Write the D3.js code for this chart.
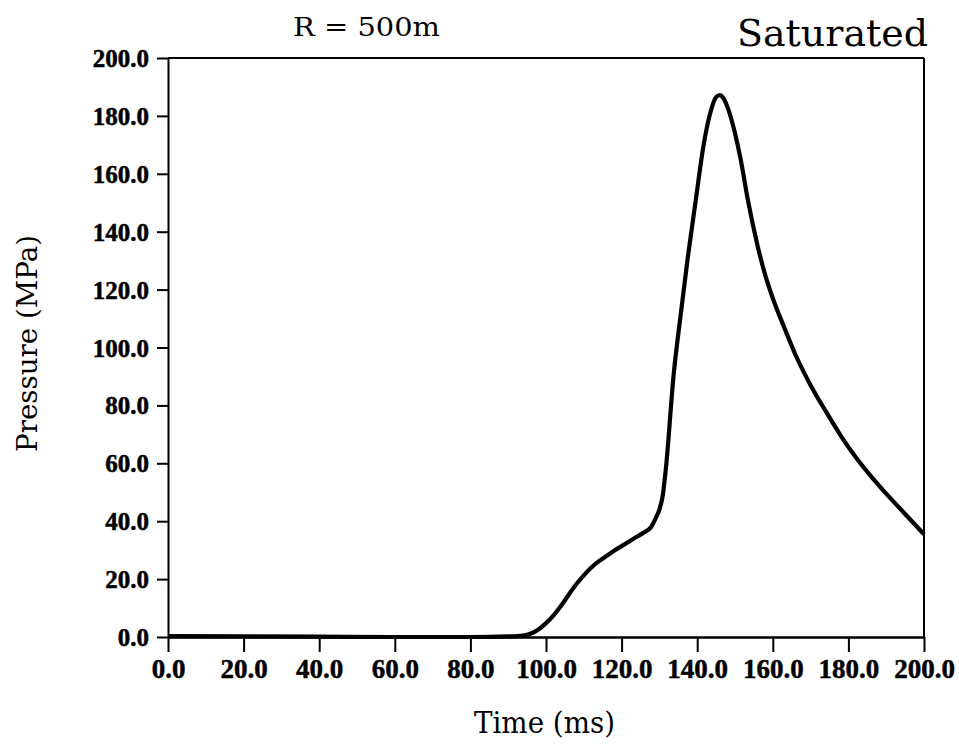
<!DOCTYPE html>
<html>
<head>
<meta charset="utf-8">
<script src="https://cdn.jsdelivr.net/npm/d3@7"></script>
<style>
  html, body { margin: 0; padding: 0; background: #fff; }
  svg { display: block; }
</style>
</head>
<body>
<svg id="chart" width="959" height="747"></svg>
<script>
// ---- data ----
const timeMs = [0, 20, 40, 60, 80, 90, 94, 96, 98, 100, 102, 104, 106, 108, 110, 112, 114, 116, 118, 120,
  122, 124, 126, 127.7, 129, 130, 130.9, 131.7, 133.8, 135.6, 137.5, 139.6, 141.7, 143.6, 145, 146, 147,
  148.3, 150, 151.5, 153.4, 156, 158, 160, 163, 166, 170, 174, 178, 182, 186, 190, 195, 200];
const pressureMPa = [0.3, 0.2, 0.1, 0.0, 0.0, 0.2, 0.5, 1.2, 2.6, 4.8, 7.5, 10.8, 14.6, 18.2, 21.3, 24.0, 26.2, 28.0, 29.8, 31.4,
  33.0, 34.6, 36.2, 37.8, 41, 44, 49, 58, 91, 111, 131, 150.7, 170, 181.7, 186.5, 187.2, 186,
  182, 174, 165, 151, 135, 125, 117, 107, 97.5, 87, 78, 69.5, 62, 55.5, 49.5, 42.5, 35.5];
const xTicks = [0, 20, 40, 60, 80, 100, 120, 140, 160, 180, 200];
const yTicks = [0, 20, 40, 60, 80, 100, 120, 140, 160, 180, 200];
const titleLeft = "R = 500m";
const titleRight = "Saturated";
const xLabel = "Time (ms)";
const yLabel = "Pressure (MPa)";

// ---- layout ----
const svg = d3.select("#chart");
const L = 168, R = 924, T = 58, B = 637;
const x = d3.scaleLinear().domain([0, 200]).range([L, R]);
const y = d3.scaleLinear().domain([0, 200]).range([B, T]);
const fmt = d => d.toFixed(1);
const tickFont = "'Liberation Serif', serif";

// frame (top and right)
svg.append("line").attr("x1", L).attr("x2", R).attr("y1", T).attr("y2", T)
  .attr("stroke", "#000").attr("stroke-width", 2);
svg.append("line").attr("x1", R).attr("x2", R).attr("y1", T).attr("y2", B)
  .attr("stroke", "#000").attr("stroke-width", 2);

// x axis
const gx = svg.append("g").attr("transform", `translate(0,${B})`)
  .call(d3.axisBottom(x).tickValues(xTicks).tickFormat(fmt).tickSize(15).tickSizeOuter(0));
gx.select(".domain").attr("stroke-width", 2.5);
gx.selectAll(".tick line").attr("stroke-width", 2);
gx.selectAll(".tick text")
  .attr("font-family", tickFont)
  .attr("font-weight", "bold")
  .attr("font-size", 27)
  .attr("stroke", "#000").attr("stroke-width", 0.5)
  .attr("dy", 0).attr("y", 41)
  .attr("fill", "#000");

// y axis
const gy = svg.append("g").attr("transform", `translate(${L},0)`)
  .call(d3.axisLeft(y).tickValues(yTicks).tickFormat(fmt).tickSize(11).tickSizeOuter(0));
gy.select(".domain").attr("stroke-width", 2);
gy.selectAll(".tick line").attr("stroke-width", 2);
gy.selectAll(".tick text")
  .attr("font-family", tickFont)
  .attr("font-weight", "bold")
  .attr("font-size", 25)
  .attr("stroke", "#000").attr("stroke-width", 0.5)
  .attr("x", -19).attr("dy", "0.34em")
  .attr("fill", "#000");

// curve
const pts = timeMs.map((t, i) => [t, pressureMPa[i]]);
svg.append("path")
  .datum(pts)
  .attr("fill", "none")
  .attr("stroke", "#000")
  .attr("stroke-width", 4.2)
  .attr("stroke-linejoin", "round")
  .attr("d", d3.line().x(d => x(d[0])).y(d => y(d[1])).curve(d3.curveMonotoneX));

// titles
svg.append("text").attr("x", 293).attr("y", 36)
  .attr("font-family", "'DejaVu Serif', serif").attr("font-size", 26)
  .attr("textLength", 147).attr("lengthAdjust", "spacingAndGlyphs")
  .text(titleLeft);
svg.append("text").attr("x", 737).attr("y", 46)
  .attr("font-family", "'DejaVu Serif', serif").attr("font-size", 38)
  .attr("textLength", 191).attr("lengthAdjust", "spacingAndGlyphs")
  .text(titleRight);
svg.append("text").attr("x", 474).attr("y", 733)
  .attr("font-family", "'DejaVu Serif', serif").attr("font-size", 29)
  .attr("textLength", 141).attr("lengthAdjust", "spacingAndGlyphs")
  .text(xLabel);
svg.append("text").attr("transform", "translate(37,452) rotate(-90)")
  .attr("font-family", "'DejaVu Serif', serif").attr("font-size", 28)
  .attr("textLength", 217).attr("lengthAdjust", "spacingAndGlyphs")
  .text(yLabel);
</script>
</body>
</html>
